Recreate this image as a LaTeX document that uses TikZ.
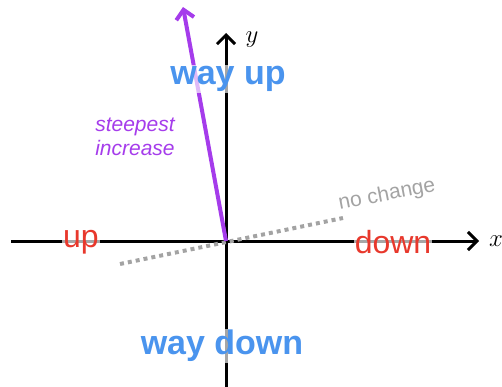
\documentclass[tikz,border=0pt]{standalone}
\usepackage{fontspec}
\setmainfont{Liberation Sans}
\usetikzlibrary{arrows.meta}
\definecolor{wblue}{HTML}{4A94EE}
\definecolor{wred}{HTML}{E8382C}
\definecolor{wpurple}{HTML}{A53CEB}
\definecolor{wgray}{HTML}{A3A3A3}
\tikzset{
  axis/.style={line width=3pt, black},
  tip/.style={-{Straight Barb[length=9pt,width=18pt,line width=3pt]}},
  lbl/.style={fill=white, fill opacity=0.65, text opacity=1, inner sep=1pt},
  big/.style={lbl, text=wblue, font=\fontsize{34}{34}\selectfont\bfseries},
  side/.style={lbl, text=wred, font=\fontsize{32}{32}\selectfont},
  axlbl/.style={font=\fontsize{25}{25}\selectfont, inner sep=0pt}
}
\begin{document}
\begin{tikzpicture}[x=1pt,y=-1pt]
\useasboundingbox (0,0) rectangle (502,387);
\coordinate (O) at (226,241);
\coordinate (xl) at (11,241);
\coordinate (xr) at (479,241);
\coordinate (yb) at (226,390);
\coordinate (yt) at (226,33);
\coordinate (g1) at (120,264);
\coordinate (g2) at (343,218);
\coordinate (pt) at (183,7);
\draw[axis] (xl) -- (O);
\draw[axis, tip] (O) -- (xr);
\draw[axis] (yb) -- (O);
\draw[axis, tip] (O) -- (yt);
\draw[wgray, line width=4pt, dash pattern=on 4pt off 4pt] (g1) -- (g2);
\draw[wpurple, line width=4pt, -{Straight Barb[length=9pt,width=18pt,line width=4pt]}] (O) -- (pt);
\node[axlbl] (xlab) at (496,241) {$x$};
\node[axlbl] (ylab) at (252,40) {$y$};
\node[big] (wu) at (228,79) {way up};
\node[big] (wd) at (222,346) {way down};
\node[side] (up) at (81,242) {up};
\node[side] (dn) at (393,242) {down};
\node[text=wpurple, font=\fontsize{21}{24}\selectfont\itshape, align=center] (si) at (135,137) {steepest\\increase};
\node[text=wgray, font=\fontsize{21}{21}\selectfont, rotate=11, inner sep=0pt] (nc) at (387,195) {no change};
\end{tikzpicture}
\end{document}
